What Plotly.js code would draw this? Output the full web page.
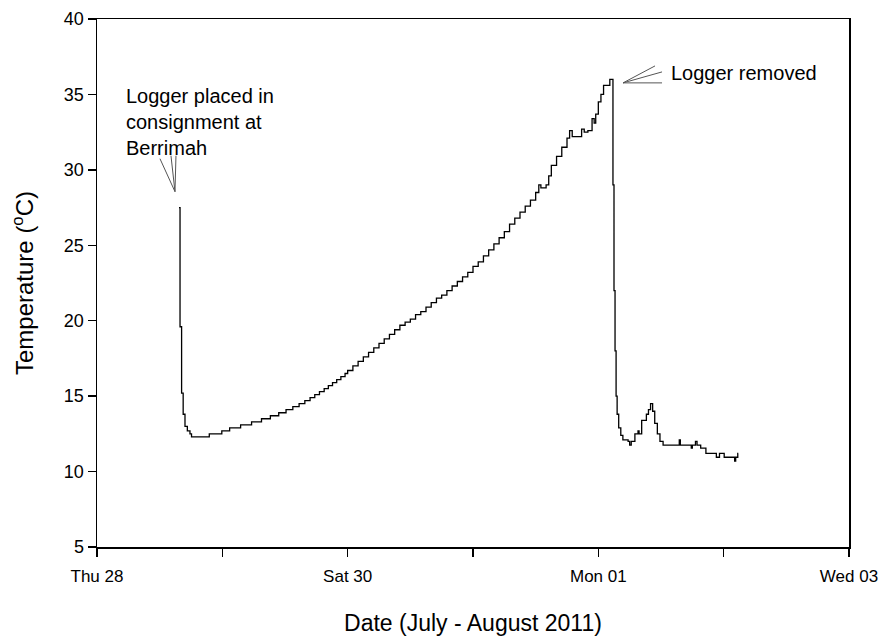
<!DOCTYPE html>
<html>
<head>
<meta charset="utf-8">
<script src="https://cdn.plot.ly/plotly-3.0.1.min.js"></script>
<style>html,body{margin:0;padding:0;background:#fff;}#chart{width:880px;height:637px;}</style>
</head>
<body>
<div id="chart"></div>
<script>
// Hours since Thu 28 July 2011 00:00
var startDate = '2011-07-28T00:00:00';
var hours = [
  15.7, 15.9, 16.2, 16.5, 16.85, 17.3, 17.8, 18.1,
  21.5, 23.9, 25.4, 27.5, 29.6, 31.5, 33.2, 34.8, 36.2, 37.5, 38.7, 39.8,
  40.8, 41.7, 42.6, 43.5, 44.3, 45.1, 45.9, 46.7, 47.5,
  48, 49, 50, 51, 52, 53, 54, 55, 56, 57, 58, 59, 60, 61, 62, 63, 64, 65,
  66, 67, 68, 69, 70, 71, 72, 73, 74, 75, 76, 77, 78, 79, 80, 81, 82, 83,
  84, 84.6, 85, 86, 86.5, 87, 88, 89, 90, 90.5, 91, 92, 92.8, 93.3, 94,
  94.8, 95.2, 95.5, 96, 96.5, 97, 98, 98.2, 98.7,
  98.8, 99.0, 99.2, 99.4, 99.6, 99.9, 100.3, 100.7, 101.7, 102.0, 102.3,
  103.0, 103.6, 103.8, 104.3, 105.2, 105.6, 106.0, 106.4, 106.8, 107.3,
  107.8, 108.4, 111.5, 111.7, 113.8, 114.0, 114.6, 114.9, 115.6, 116.6,
  118.6, 119.2, 120.1, 122.1, 122.3, 122.7, 122.8
];
var temps = [
  27.5, 19.6, 15.2, 13.8, 13.0, 12.7, 12.5, 12.3,
  12.5, 12.7, 12.9, 13.1, 13.3, 13.5, 13.7, 13.9, 14.1, 14.3, 14.5, 14.7,
  14.9, 15.1, 15.3, 15.5, 15.7, 15.9, 16.1, 16.3, 16.5,
  16.7, 17.0, 17.3, 17.6, 17.9, 18.2, 18.5, 18.8, 19.1, 19.4, 19.7, 19.9, 20.1, 20.4, 20.6, 20.9, 21.2, 21.5,
  21.7, 22.0, 22.3, 22.6, 22.9, 23.2, 23.6, 23.9, 24.3, 24.7, 25.1, 25.5, 25.9, 26.4, 26.8, 27.2, 27.6, 28.0,
  28.5, 29.0, 28.8, 29.0, 29.6, 30.3, 30.9, 31.5, 32.1, 32.6, 32.2, 32.2, 32.7, 32.5, 32.6,
  33.4, 33.1, 33.7, 34.5, 35.0, 35.6, 35.6, 36.0, 36.0,
  29.0, 22.0, 18.0, 15.0, 13.8, 12.9, 12.4, 12.1, 12.0, 11.75, 12.0,
  12.5, 12.7, 12.5, 13.4, 13.8, 14.1, 14.5, 14.0, 13.2, 12.5,
  12.0, 11.75, 12.1, 11.75, 11.55, 11.75, 12.0, 11.75, 11.55, 11.2,
  10.95, 11.2, 10.95, 10.7, 10.95, 11.2, 11.2
];
var xTickStart = '2011-07-28';
var xRange = ['2011-07-28', '2011-08-03'];
var yRange = [5, 40];
var noteStart = 'Logger placed in<br>consignment at<br>Berrimah';
var noteEnd = 'Logger removed';

var base = new Date(startDate + 'Z').getTime();
function toDate(h) {
  var d = new Date(base + h * 3600000);
  return d.toISOString().replace('Z', '').replace('T', ' ');
}
var xs = hours.map(toDate);

var font = 'Liberation Sans, Arial, sans-serif';
var lineCol = '#555555';
var plotW = 752, plotH = 529;

var trace = {
  x: xs, y: temps, type: 'scatter', mode: 'lines',
  line: {color: '#000000', width: 1.3, shape: 'hv'},
  hoverinfo: 'x+y'
};

// leader lines drawn in paper space, from a convergence point with pixel offsets
function leader(px, py, dx, dy) {
  return {type: 'line', xref: 'paper', yref: 'paper',
    x0: px, y0: py, x1: px + dx / plotW, y1: py - dy / plotH,
    line: {color: lineCol, width: 1}};
}

var layout = {
  width: 880, height: 637,
  margin: {l: 97, r: 31, t: 19, b: 90},
  paper_bgcolor: '#ffffff', plot_bgcolor: '#ffffff',
  showlegend: false,
  font: {family: font, size: 18, color: '#000000'},
  xaxis: {
    type: 'date', range: xRange,
    tickmode: 'linear', tick0: xTickStart, dtick: 172800000,
    tickformat: '%a %d',
    ticks: 'outside', ticklen: 8, tickwidth: 1.3, tickcolor: '#000',
    ticklabelstandoff: 5, ticklabeloverflow: 'allow',
    minor: {ticks: 'outside', dtick: 86400000, tick0: xTickStart, ticklen: 8, tickwidth: 1.3, tickcolor: '#000', showgrid: false},
    showline: true, linecolor: '#000', linewidth: 1.5, mirror: true,
    showgrid: false, zeroline: false,
    tickfont: {family: font, size: 17, color: '#000'},
    title: {text: 'Date (July - August 2011)', font: {family: font, size: 23, color: '#000'}, standoff: 30}
  },
  yaxis: {
    range: yRange, tickmode: 'linear', tick0: 5, dtick: 5,
    ticks: 'outside', ticklen: 8, tickwidth: 1.3, tickcolor: '#000',
    showline: true, linecolor: '#000', linewidth: 1.5, mirror: true,
    showgrid: false, zeroline: false,
    tickfont: {family: font, size: 18, color: '#000'},
    title: {text: 'Temperature (<sup>o</sup>C)', font: {family: font, size: 24, color: '#000'}, standoff: 23}
  },
  shapes: [
    leader(0.1037, 0.673, -15, -33),
    leader(0.1037, 0.673, -4, -36),
    leader(0.1037, 0.673, 1, -36),
    leader(0.6995, 0.879, 32, -17),
    leader(0.6995, 0.879, 39, -11),
    leader(0.6995, 0.879, 39, 0)
  ],
  annotations: [
    {xref: 'paper', yref: 'paper', x: 0.036, y: 0.805, xanchor: 'left', yanchor: 'middle',
     text: noteStart, align: 'left', showarrow: false,
     font: {family: font, size: 20, color: '#000'}},
    {xref: 'paper', yref: 'paper', x: 0.760, y: 0.898, xanchor: 'left', yanchor: 'middle',
     text: noteEnd, align: 'left', showarrow: false,
     font: {family: font, size: 20, color: '#000'}}
  ]
};

Plotly.newPlot('chart', [trace], layout, {displayModeBar: false, staticPlot: true});
</script>
</body>
</html>
